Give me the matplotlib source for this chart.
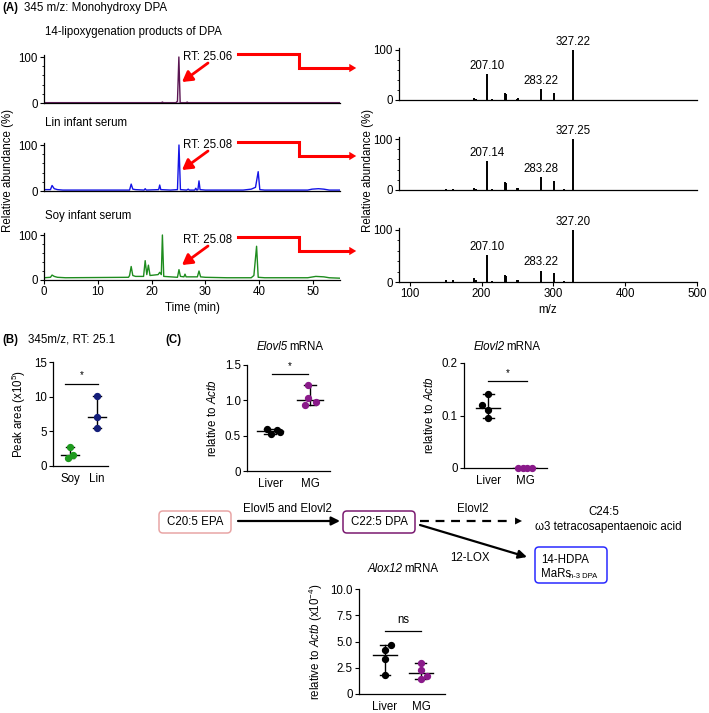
import numpy as np
import matplotlib
matplotlib.use("Agg")
import matplotlib.pyplot as plt
from matplotlib.patches import FancyBboxPatch, FancyArrowPatch
from matplotlib.offsetbox import TextArea, HPacker, AnchoredOffsetbox

plt.rcParams['font.family'] = ['Liberation Sans', 'DejaVu Sans']
plt.rcParams['mathtext.fontset'] = 'custom'
plt.rcParams['mathtext.rm'] = 'Liberation Sans'
plt.rcParams['mathtext.it'] = 'Liberation Sans:italic'
plt.rcParams['font.size'] = 8

# --- chromatograms (time in min, relative abundance %) ---
lox_time = [0, 21.8, 22.0, 22.2, 24.5, 24.8, 25.06, 25.3, 26.4, 26.6, 26.8, 55]
lox_val = [0.5, 0.5, 2, 0.5, 0.5, 4, 100, 0.5, 0.5, 2, 0.5, 0.5]

lin_time = [0, 1.2, 1.5, 1.9, 2.5, 3.5, 15.9, 16.2, 16.5, 17, 18.6, 18.8, 19.0, 21.3, 21.5, 21.7,
            23.5, 24.8, 25.08, 25.35, 26.5, 26.8, 27, 28.0, 28.2, 28.4, 28.6, 28.8, 29.0, 30, 37,
            38.5, 39.3, 39.8, 40.1, 41, 49, 49.8, 51, 52, 53, 55]
lin_val = [3, 3, 12, 5, 3, 2, 2, 15, 4, 3, 2, 5, 2, 3, 13, 3,
           2, 3, 100, 3, 2, 4, 2, 2, 6, 2, 3, 22, 3, 2, 2,
           4, 8, 42, 3, 2, 2, 4, 5, 4, 2, 2]

soy_time = [0, 1.2, 1.5, 1.9, 2.5, 4, 15.7, 15.9, 16.2, 16.5, 17, 18.5, 18.8, 19.1, 19.4, 19.7,
            21.2, 21.5, 21.8, 22.0, 22.25, 24.8, 25.08, 25.35, 26.0, 26.2, 26.4, 28.5, 28.8, 29.1,
            30, 34, 38.5, 39.0, 39.5, 39.8, 41, 49, 50.5, 52, 53, 55]
soy_val = [5, 6, 11, 8, 6, 5, 6, 10, 30, 10, 8, 8, 43, 12, 33, 10,
           12, 17, 12, 100, 8, 6, 23, 8, 7, 13, 7, 7, 20, 7,
           6, 5, 5, 10, 75, 6, 5, 5, 8, 7, 5, 4]

chrom_titles = ["14-lipoxygenation products of DPA", "Lin infant serum", "Soy infant serum"]
rt_labels = ["RT: 25.06", "RT: 25.08", "RT: 25.08"]

# --- MS/MS spectra (m/z, relative abundance %) ---
ms1_mz = [150, 160, 190, 192, 207.10, 215, 233, 234.5, 249, 251, 283.22, 301, 315, 327.22]
ms1_int = [1, 1, 4, 2, 52, 2, 14, 13, 3, 4, 22, 15, 1, 100]
ms2_mz = [150, 160, 190, 192, 207.14, 215, 233, 234.5, 249, 251, 283.28, 301, 315, 327.25]
ms2_int = [1, 1.5, 4, 2, 57, 2, 15, 14, 3, 4, 26, 17, 1, 100]
ms3_mz = [150, 160, 190, 192, 207.10, 215, 233, 234.5, 249, 251, 283.22, 301, 315, 327.20]
ms3_int = [3, 3, 8, 3, 52, 2, 14, 12, 3, 4, 22, 17, 1, 100]
ms_labels = [["207.10", "283.22", "327.22"], ["207.14", "283.28", "327.25"], ["207.10", "283.22", "327.20"]]

# --- panel B: peak area (x10^5) ---
b_groups = ["Soy", "Lin"]
b_soy = [2.7, 1.2, 1.6]
b_lin = [10.1, 7.0, 5.5]

# --- panel C: mRNA relative to Actb ---
c_groups = ["Liver", "MG"]
elovl5_liver = [0.59, 0.58, 0.55, 0.52]
elovl5_mg = [1.21, 1.03, 0.97, 0.94]
elovl2_liver = [0.14, 0.12, 0.11, 0.095]
elovl2_mg = [0, 0, 0, 0]
alox12_liver = [4.7, 4.2, 3.3, 1.8]
alox12_mg = [3.0, 2.3, 1.7, 1.4]

W, H = 709, 713
fig = plt.figure(figsize=(W / 100, H / 100), dpi=100)


def px_axes(l, t, r, b):
    return fig.add_axes([l / W, 1 - b / H, (r - l) / W, (b - t) / H])


def clean(ax):
    ax.spines['top'].set_visible(False)
    ax.spines['right'].set_visible(False)
    ax.tick_params(direction='out', length=3, width=0.8, labelsize=8.3, pad=1.5)
    for s in ['left', 'bottom']:
        ax.spines[s].set_linewidth(0.9)


# chromatograms
chrom_rows = [(103, 57), (191, 145), (280, 235)]
chrom_data = [(lox_time, lox_val, "#5a1552"), (lin_time, lin_val, "#1414e6"), (soy_time, soy_val, "#1e8c1e")]
for i, ((y0, y100), (t, v, col)) in enumerate(zip(chrom_rows, chrom_data)):
    ax = px_axes(44, y0 - (y0 - y100) * 1.04, 340, y0)
    clean(ax)
    if i == 0:
        ax.plot([0, 55], [0.5, 0.5], color="#c9a3cf", lw=1.6)
    else:
        ax.plot([0, 55], [0.8, 0.8], color="#333333", lw=0.6)
    ax.plot(t, v, color=col, lw=1.0)
    ax.set_xlim(0, 55)
    ax.set_ylim(0, 104)
    ax.set_yticks([0, 100])
    ax.set_yticks(np.arange(0, 101, 20), minor=True)
    ax.tick_params(which='minor', length=1.5, width=0.6)
    ax.set_xticks(np.arange(0, 51, 10))
    if i < 2:
        ax.tick_params(axis='x', length=0, labelbottom=False)
    else:
        ax.set_xlabel("Time (min)", fontsize=8.3, labelpad=3)

# MS spectra
ms_rows = [(100, 50), (190, 139), (282, 230)]
ms_data = [(ms1_mz, ms1_int), (ms2_mz, ms2_int), (ms3_mz, ms3_int)]
for i, ((y0, y100), (mz, inten)) in enumerate(zip(ms_rows, ms_data)):
    ax = px_axes(399, y0 - (y0 - y100) * 1.04, 697, y0)
    clean(ax)
    ax.vlines(mz, 0, inten, color='black', lw=1.4)
    for k, idx in enumerate([4, 10, 13]):
        ax.text(mz[idx], inten[idx] + 4, ms_labels[i][k], ha='center', va='bottom', fontsize=8.3)
    ax.set_xlim(85, 500)
    ax.set_ylim(0, 104)
    ax.set_yticks([0, 100])
    ax.set_yticks(np.arange(0, 101, 20), minor=True)
    ax.tick_params(which='minor', length=1.5, width=0.6)
    ax.set_xticks(np.arange(100, 501, 100))
    if i < 2:
        ax.tick_params(axis='x', length=0, labelbottom=False)
    else:
        ax.set_xlabel("m/z", fontsize=8.3, labelpad=3)


def dot_plot(ax, groups, series, colors, offsets, ylim, yticks, ytl):
    clean(ax)
    for j, (vals, col, off) in enumerate(zip(series, colors, offsets)):
        vals = np.asarray(vals, dtype=float)
        med, lo, hi = np.median(vals), vals.min(), vals.max()
        ax.plot([j, j], [lo, hi], color='black', lw=1.0, zorder=2)
        ax.plot([j - 0.15, j + 0.15], [lo, lo], color='black', lw=1.0, zorder=2)
        ax.plot([j - 0.15, j + 0.15], [hi, hi], color='black', lw=1.0, zorder=2)
        ax.plot([j - 0.33, j + 0.33], [med, med], color='black', lw=1.0, zorder=2)
        ax.scatter(j + np.asarray(off), vals, s=18, color=col, zorder=3, clip_on=False)
    ax.set_xticks(range(len(groups)))
    ax.set_xticklabels(groups, fontsize=8.3)
    ax.tick_params(axis='x', length=0, pad=5)
    ax.set_ylim(*ylim)
    ax.set_yticks(yticks)
    ax.set_yticklabels(ytl, fontsize=8.3)


# panel B
axb = px_axes(53, 362, 108, 466)
dot_plot(axb, b_groups, [b_soy, b_lin], ["#1f9a1f", "#141e7a"], [[0, -0.08, 0.1], [0, 0, 0]],
         (0, 15), [0, 5, 10, 15], ["0", "5", "10", "15"])
axb.set_xlim(-0.63, 1.41)
axb.set_ylabel("Peak area (x10$^5$)", fontsize=8.3, labelpad=4)
axb.plot([-0.2, 1.05], [11.8, 11.8], color='black', lw=0.9)
axb.text(0.42, 12.4, "*", ha='center', va='bottom', fontsize=7)

# Elovl5
ax5 = px_axes(247, 365, 330, 471)
dot_plot(ax5, c_groups, [elovl5_liver, elovl5_mg], ["black", "#8a1a8a"],
         [[-0.08, 0.17, 0.25, 0.03], [-0.05, -0.05, 0.14, -0.12]],
         (0, 1.5), [0, 0.5, 1.0, 1.5], ["0", "0.5", "1.0", "1.5"])
ax5.set_xlim(-0.58, 1.5)
ax5.set_ylabel("relative to $\\it{Actb}$", fontsize=8.3, labelpad=4)
ax5.plot([0.05, 0.95], [1.37, 1.37], color='black', lw=0.9)
ax5.text(0.5, 1.41, "*", ha='center', va='bottom', fontsize=7)

# Elovl2
ax2 = px_axes(464, 363, 547, 468)
dot_plot(ax2, c_groups, [elovl2_liver, elovl2_mg], ["black", "#8a1a8a"],
         [[0, -0.16, 0, 0], [-0.19, -0.06, 0.06, 0.19]],
         (0, 0.2), [0, 0.1, 0.2], ["0", "0.1", "0.2"])
ax2.set_xlim(-0.65, 1.59)
ax2.set_ylabel("relative to $\\it{Actb}$", fontsize=8.3, labelpad=4)
ax2.plot([0, 1.05], [0.165, 0.165], color='black', lw=0.9)
ax2.text(0.52, 0.171, "*", ha='center', va='bottom', fontsize=7)

# Alox12
ax12 = px_axes(359, 589, 445, 694)
dot_plot(ax12, c_groups, [alox12_liver, alox12_mg], ["black", "#8a1a8a"],
         [[0.17, 0, 0, 0], [0, 0, 0.17, 0]],
         (0, 10), [0, 2.5, 5.0, 7.5, 10.0], ["0", "2.5", "5.0", "7.5", "10.0"])
ax12.set_xlim(-0.72, 1.67)
ax12.set_ylabel("relative to $\\it{Actb}$ (x10$^{-4}$)", fontsize=8.3, labelpad=4)
ax12.plot([0, 1], [6.0, 6.0], color='black', lw=0.9)
ax12.text(0.5, 6.5, "ns", ha='center', va='bottom', fontsize=8.3)

# overlay in pixel coordinates for labels, arrows and the pathway
ov = fig.add_axes([0, 0, 1, 1])
ov.set_xlim(0, W)
ov.set_ylim(H, 0)
ov.axis('off')


def gene_title(gene, x, y):
    box = HPacker(children=[TextArea(gene, textprops=dict(fontstyle='italic', fontsize=8.3)),
                            TextArea("mRNA", textprops=dict(fontsize=8.3))],
                  align='baseline', pad=0, sep=1.2)
    ov.add_artist(AnchoredOffsetbox(loc='center', child=box, pad=0, borderpad=0, frameon=False,
                                    bbox_to_anchor=(x, y), bbox_transform=ov.transData))


gene_title("Elovl5", 290, 347)
gene_title("Elovl2", 507, 347)
gene_title("Alox12", 403, 569)

ov.text(2, 8, "(A)", fontweight='bold', fontsize=8.3, va='center')
ov.text(24, 8, "345 m/z: Monohydroxy DPA", fontsize=8.3, va='center')
ov.text(2, 340, "(B)", fontweight='bold', fontsize=8.3, va='center')
ov.text(28, 340, "345m/z, RT: 25.1", fontsize=8.3, va='center')
ov.text(165, 340, "(C)", fontweight='bold', fontsize=8.3, va='center')
ov.text(8, 170, "Relative abundance (%)", rotation=90, fontsize=8.3, ha='center', va='center')
ov.text(368, 170, "Relative abundance (%)", rotation=90, fontsize=8.3, ha='center', va='center')

sub_y = [32, 123, 216]
text_y = [57, 145, 240]
red = "#ff0000"
for title, rt, sy, ty in zip(chrom_titles, rt_labels, sub_y, text_y):
    ov.text(45, sy, title, fontsize=8.3, va='center')
    ov.text(183, ty, rt, fontsize=8.3, va='center')
    ov.plot([238, 299, 299, 348], [ty - 3, ty - 3, ty + 11, ty + 11], color=red, lw=2.2,
            solid_joinstyle='miter')
    ov.add_patch(FancyArrowPatch((345, ty + 11), (359, ty + 11), arrowstyle='-|>,head_length=5,head_width=3',
                                 color=red, lw=0, mutation_scale=1))
    ov.add_patch(FancyArrowPatch((208, ty + 6), (182, ty + 25), arrowstyle='-|>,head_length=6,head_width=3.5',
                                 color=red, lw=2.0, mutation_scale=1, shrinkA=0, shrinkB=0))

# pathway
boxes = [(159, 511, 72, 22, "#e8a5a5"), (343, 511, 72, 22, "#7a1a70"), (535, 547, 72, 36, "#2a2aff")]
for bx, by, bw, bh, ec in boxes:
    ov.add_patch(FancyBboxPatch((bx, by), bw, bh, boxstyle="round,pad=0,rounding_size=4",
                                fc='white', ec=ec, lw=1.1))
ov.text(195, 522, "C20:5 EPA", ha='center', va='center', fontsize=8.3)
ov.text(379, 522, "C22:5 DPA", ha='center', va='center', fontsize=8.3)
ov.text(541, 560, "14-HDPA", ha='left', va='center', fontsize=8.3)
ov.text(541, 574, "MaRs", ha='left', va='center', fontsize=8.3)
ov.text(569, 576, "n-3 DPA", ha='left', va='center', fontsize=5.5)

ov.add_patch(FancyArrowPatch((238, 521), (340, 521), arrowstyle='-|>,head_length=5,head_width=2.5',
                             color='black', lw=1.6, mutation_scale=1, shrinkA=0, shrinkB=0))
ov.text(287, 509, "Elovl5 and Elovl2", ha='center', va='center', fontsize=8.3)
ov.plot([420, 508], [521, 521], color='black', lw=1.6, linestyle=(0, (4, 3)))
ov.add_patch(FancyArrowPatch((505, 521), (522, 521), arrowstyle='-|>,head_length=5,head_width=2.5',
                             color='black', lw=0, mutation_scale=1, shrinkA=0, shrinkB=0))
ov.text(473, 509, "Elovl2", ha='center', va='center', fontsize=8.3)
ov.text(604, 512, "C24:5", ha='center', va='center', fontsize=8.3)
ov.text(535, 527, "\u03c93 tetracosapentaenoic acid", ha='left', va='center', fontsize=8.3)
ov.add_patch(FancyArrowPatch((420, 525), (527, 557), arrowstyle='-|>,head_length=5,head_width=2.5',
                             color='black', lw=1.6, mutation_scale=1, shrinkA=0, shrinkB=0))
ov.text(470, 558, "12-LOX", ha='center', va='center', fontsize=8.3)

fig.savefig("out.png", dpi=100)
